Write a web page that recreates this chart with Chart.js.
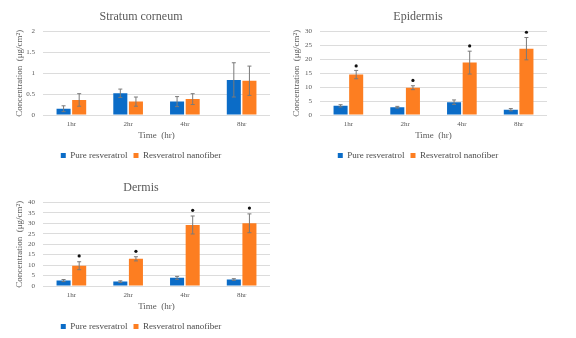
<!DOCTYPE html>
<html>
<head>
<meta charset="utf-8">
<script src="https://cdn.jsdelivr.net/npm/chart.js@4"></script>
<style>
  body { margin: 0; background: #fff; width: 576px; height: 338px; position: relative; overflow: hidden; }
  .box { position: absolute; width: 288px; height: 170px; }
</style>
</head>
<body>
<div class="box" style="left:0;top:0"><canvas id="sc"></canvas></div>
<div class="box" style="left:277px;top:0"><canvas id="epi"></canvas></div>
<div class="box" style="left:0;top:171px"><canvas id="derm"></canvas></div>
<script>
const times = ["1hr", "2hr", "4hr", "8hr"];

// Stratum corneum
const scPure = [0.15, 0.52, 0.32, 0.84];
const scPureErr = [0.07, 0.10, 0.12, 0.41];
const scNano = [0.36, 0.32, 0.38, 0.82];
const scNanoErr = [0.15, 0.11, 0.13, 0.35];

// Epidermis
const epiPure = [3.3, 2.8, 4.6, 1.9];
const epiPureErr = [0.4, 0.3, 0.8, 0.4];
const epiNano = [14.5, 9.8, 18.8, 23.8];
const epiNanoErr = [1.5, 0.7, 4.1, 4.0];
const epiStar = [17.6, 12.4, 24.8, 29.7];

// Dermis
const dermPure = [2.6, 2.1, 3.9, 3.1];
const dermPureErr = [0.5, 0.4, 0.7, 0.4];
const dermNano = [9.7, 13.0, 29.2, 30.0];
const dermNanoErr = [1.9, 1.0, 4.3, 4.5];
const dermStar = [14.4, 16.6, 36.2, 37.3];

const BLUE = "#0b6cc7";
const ORANGE = "#fd7e21";
const GREY = "#595959";
const SERIF = "'Liberation Serif', 'Times New Roman', serif";

// draws error bars + significance dots on top of the bars
const errorBars = {
  id: "errorBars",
  afterDatasetsDraw(chart) {
    const ctx = chart.ctx;
    const y = chart.scales.y;
    chart.data.datasets.forEach((ds, i) => {
      const meta = chart.getDatasetMeta(i);
      meta.data.forEach((bar, j) => {
        const v = ds.data[j];
        const e = ds.errors[j];
        const top = y.getPixelForValue(v + e);
        const bot = y.getPixelForValue(v - e);
        ctx.save();
        ctx.strokeStyle = "#7a7a7a";
        ctx.lineWidth = 1;
        ctx.beginPath();
        ctx.moveTo(bar.x, top); ctx.lineTo(bar.x, bot);
        ctx.moveTo(bar.x - 2, top); ctx.lineTo(bar.x + 2, top);
        ctx.moveTo(bar.x - 2, bot); ctx.lineTo(bar.x + 2, bot);
        ctx.stroke();
        if (ds.stars) {
          ctx.fillStyle = "#111";
          ctx.beginPath();
          ctx.arc(bar.x, y.getPixelForValue(ds.stars[j]), 1.6, 0, Math.PI * 2);
          ctx.fill();
        }
        ctx.restore();
      });
    });
  }
};

function makeChart(id, title, pure, pureErr, nano, nanoErr, stars, yMax, yStep) {
  return new Chart(document.getElementById(id), {
    type: "bar",
    data: {
      labels: times,
      datasets: [
        { label: "Pure resveratrol", data: pure, errors: pureErr, backgroundColor: BLUE },
        { label: "Resveratrol nanofiber", data: nano, errors: nanoErr, stars: stars, backgroundColor: ORANGE }
      ]
    },
    options: {
      responsive: true,
      maintainAspectRatio: false,
      animation: false,
      datasets: { bar: { categoryPercentage: 0.55, barPercentage: 0.9 } },
      layout: { padding: { left: 12, right: 18, top: 5, bottom: 0 } },
      plugins: {
        title: {
          display: true, text: title, color: GREY,
          font: { family: SERIF, size: 12, weight: "normal" },
          padding: { top: 5, bottom: 7 }
        },
        legend: {
          position: "bottom",
          labels: {
            color: "#4a4a4a", boxWidth: 5, boxHeight: 5, padding: 6,
            font: { family: SERIF, size: 9 }
          }
        },
        tooltip: { enabled: false }
      },
      scales: {
        x: {
          afterFit: (s) => { s.height = 30; },
          grid: { display: false, drawTicks: false },
          border: { display: false },
          ticks: { color: GREY, font: { family: SERIF, size: 7 }, padding: 5 },
          title: { display: true, text: "Time  (hr)", color: GREY, font: { family: SERIF, size: 9 }, padding: { top: 2, bottom: 4 } }
        },
        y: {
          afterFit: (s) => { s.width = 31; },
          min: 0, max: yMax,
          grid: { color: "#dcdcdc", drawTicks: false },
          border: { display: false },
          ticks: {
            stepSize: yStep, autoSkip: false, color: GREY, padding: 8,
            font: { family: SERIF, size: 7 },
            callback: (v) => String(v)
          },
          title: { display: true, text: "Concentration  (μg/cm²)", color: GREY, font: { family: SERIF, size: 9 }, padding: 2 }
        }
      }
    },
    plugins: [errorBars]
  });
}

makeChart("sc", "Stratum corneum", scPure, scPureErr, scNano, scNanoErr, null, 2, 0.5);
makeChart("epi", "Epidermis", epiPure, epiPureErr, epiNano, epiNanoErr, epiStar, 30, 5);
makeChart("derm", "Dermis", dermPure, dermPureErr, dermNano, dermNanoErr, dermStar, 40, 5);
</script>
</body>
</html>
